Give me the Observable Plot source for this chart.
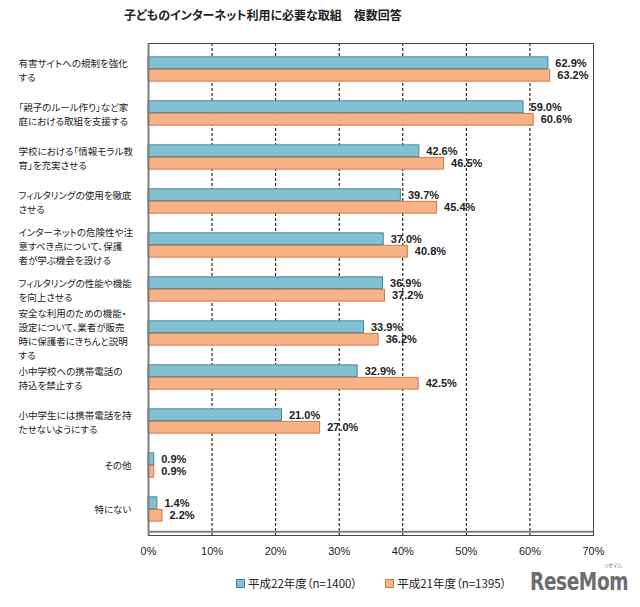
<!DOCTYPE html>
<html>
<head>
<meta charset="utf-8">
<script src="https://cdn.jsdelivr.net/npm/d3@7"></script>
<script src="https://cdn.jsdelivr.net/npm/@observablehq/plot@0.6"></script>
<style>
  body { margin: 0; background: #fff; }
  #wrap { position: relative; width: 640px; height: 607px; overflow: hidden; font-family: 'Noto Sans CJK JP', sans-serif; color: #222; font-feature-settings: "palt"; }
  #chart svg text { font-feature-settings: "palt"; }
  #title { position: absolute; left: 124px; top: 6px; font-size: 12px; font-weight: bold; white-space: nowrap; }
  #chart { position: absolute; left: 0; top: 35px; }
  #legend { position: absolute; top: 575px; left: 236px; font-size: 11.5px; white-space: nowrap; display: flex; gap: 28px; }
  #legend span.sw { display: inline-block; width: 7px; height: 7px; margin-right: 3px; vertical-align: 0px; border: 1px solid; }
  #logo { position: absolute; left: 530px; top: 567px; font-family: 'DejaVu Sans', sans-serif; font-weight: bold; font-size: 25px; line-height: 30px; color: #6d6d6d; letter-spacing: -0.5px; transform: scaleX(0.74); transform-origin: 0 0; white-space: nowrap; }
  #logo-kana { position: absolute; left: 604px; top: 562px; font-size: 5px; line-height: 6px; color: #6d6d6d; }
</style>
</head>
<body>
<div id="wrap">
  <div id="title"></div>
  <div id="chart"></div>
  <div id="legend"></div>
  <div id="logo">ReseMom</div>
  <div id="logo-kana">リセマム</div>
</div>
<script>
const title = "子どものインターネット利用に必要な取組　複数回答";
const categories = [
  "有害サイトへの規制を強化\nする",
  "「親子のルール作り」など家\n庭における取組を支援する",
  "学校における「情報モラル教\n育」を充実させる",
  "フィルタリングの使用を徹底\nさせる",
  "インターネットの危険性や注\n意すべき点について、保護\n者が学ぶ機会を設ける",
  "フィルタリングの性能や機能\nを向上させる",
  "安全な利用のための機能・\n設定について、業者が販売\n時に保護者にきちんと説明\nする",
  "小中学校への携帯電話の\n持込を禁止する",
  "小中学生には携帯電話を持\nたせないようにする",
  "その他",
  "特にない"
];
const seriesNames = ["平成22年度（n=1400）", "平成21年度（n=1395）"];
const h22 = [62.9, 59.0, 42.6, 39.7, 37.0, 36.9, 33.9, 32.9, 21.0, 0.9, 1.4];
const h21 = [63.2, 60.6, 46.5, 45.4, 40.8, 37.2, 36.2, 42.5, 27.0, 0.9, 2.2];
const xTicks = [0, 10, 20, 30, 40, 50, 60, 70];

const colors = {
  fill22: "#82c1d4", stroke22: "#3f8a9e",
  fill21: "#f7b287", stroke21: "#cf7a44"
};

const rows = categories.map((c, i) => ({category: c, h22: h22[i], h21: h21[i]}));

const W = 640, H = 530, mT = 8, mB = 30, mL = 148, mR = 47;
const band = (H - mT - mB) / categories.length;
const barH = 12.5;
const half = band / 2;

document.getElementById("title").textContent = title;

const chart = Plot.plot({
  width: W, height: H,
  marginLeft: mL, marginRight: mR, marginTop: mT, marginBottom: mB,
  style: {fontFamily: "'Liberation Sans', 'Noto Sans CJK JP', sans-serif", fontSize: "11px", color: "#222", background: "#fff"},
  x: {domain: [0, 70], ticks: xTicks, tickFormat: d => d + "%", label: null, tickSize: 0, tickPadding: 12},
  y: {domain: categories, padding: 0, axis: null},
  marks: [
    Plot.ruleX(xTicks.slice(1, -1), {stroke: "#000", strokeDasharray: "3,2", strokeWidth: 1}),
    Plot.barX(rows, {x: "h22", y: "category", fill: colors.fill22, stroke: colors.stroke22, strokeWidth: 1,
      insetTop: half - barH, insetBottom: half}),
    Plot.barX(rows, {x: "h21", y: "category", fill: colors.fill21, stroke: colors.stroke21, strokeWidth: 1,
      insetTop: half, insetBottom: half - barH}),
    Plot.text(rows, {x: "h22", y: "category", text: d => d.h22.toFixed(1) + "%", dy: -barH / 2, dx: 7,
      textAnchor: "start", fontWeight: "bold", fill: "#222"}),
    Plot.text(rows, {x: "h21", y: "category", text: d => d.h21.toFixed(1) + "%", dy: barH / 2, dx: 7,
      textAnchor: "start", fontWeight: "bold", fill: "#222"}),
    Plot.frame({stroke: "#444", strokeWidth: 1}),
    Plot.ruleX([0], {stroke: "#7f7f7f", strokeWidth: 2}),
    Plot.ruleY([categories[categories.length - 1]], {stroke: "#7f7f7f", strokeWidth: 2, dy: half}),
    Plot.text(categories.filter(c => c.includes("\n")), {y: d => d, frameAnchor: "left", dx: -130,
      textAnchor: "start", lineHeight: 1.45, fontSize: 9.5, fill: "#222", fontFamily: "'Noto Sans CJK JP', sans-serif"}),
    Plot.text(categories.filter(c => !c.includes("\n")), {y: d => d, frameAnchor: "left", dx: -17,
      textAnchor: "end", fontSize: 9.5, fill: "#222", fontFamily: "'Noto Sans CJK JP', sans-serif"})
  ]
});
document.getElementById("chart").appendChild(chart);

const legend = document.getElementById("legend");
[[seriesNames[0], colors.fill22, colors.stroke22], [seriesNames[1], colors.fill21, colors.stroke21]].forEach(([name, f, s]) => {
  const item = document.createElement("div");
  const sw = document.createElement("span");
  sw.className = "sw";
  sw.style.background = f;
  sw.style.borderColor = s;
  item.appendChild(sw);
  item.appendChild(document.createTextNode(name));
  legend.appendChild(item);
});
</script>
</body>
</html>
